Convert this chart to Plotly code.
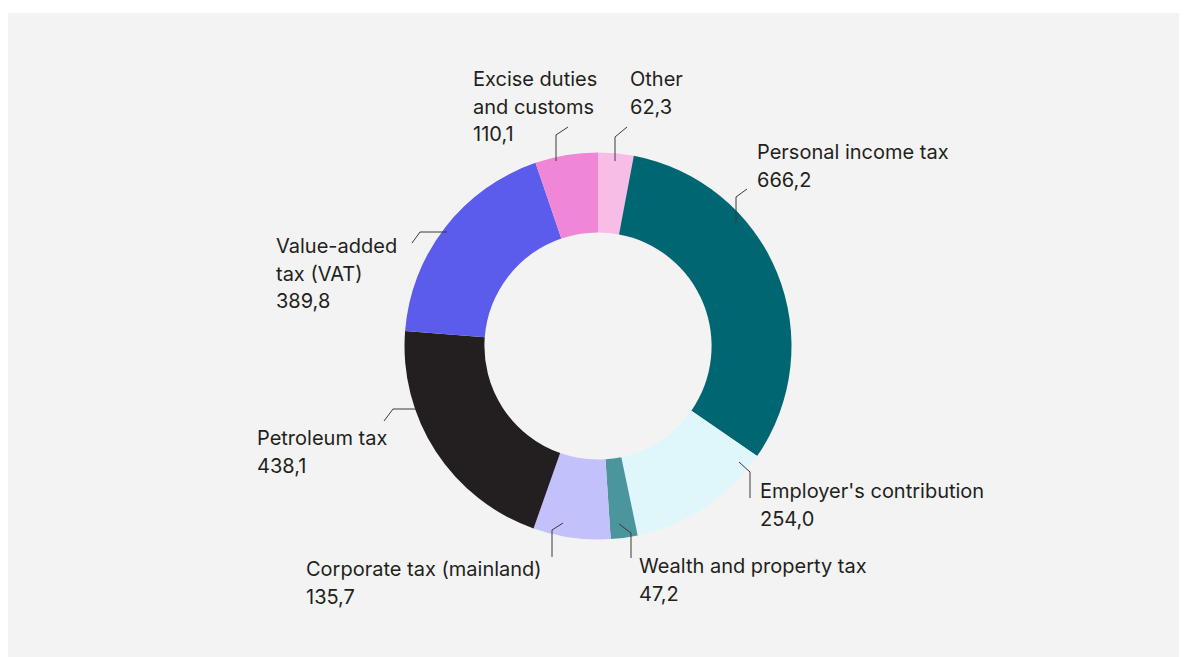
import plotly.graph_objects as go

# ---- data ----
categories = ["Other", "Personal income tax", "Employer's contribution",
              "Wealth and property tax", "Corporate tax (mainland)",
              "Petroleum tax", "Value-added tax (VAT)", "Excise duties and customs"]
values = [62.3, 666.2, 254.0, 47.2, 135.7, 438.1, 389.8, 110.1]
label_lines = [["Other"], ["Personal income tax"], ["Employer's contribution"],
               ["Wealth and property tax"], ["Corporate tax (mainland)"],
               ["Petroleum tax"], ["Value-added", "tax (VAT)"],
               ["Excise duties", "and customs"]]
colors = ["#f7bde7", "#006671", "#dff6fb", "#4b969c", "#c2c1fc",
          "#231f20", "#5b5cec", "#f087d6"]

# ---- layout (screen pixels; page body adds an 8px margin) ----
W, H = 1187, 657
OFF = 8
CX, CY, R = 598, 346, 193.5
HOLE = 0.587
LINE_H = 27.5
TEXT_DX = -2
FONT = "Inter, Roboto, sans-serif"
TXT = "#231f20"

label_pos = [(630, 79), (757, 152), (760, 491), (639, 566), (306, 569),
             (257, 438), (276, 246), (473, 79)]
leaders = [
    [(615, 161), (615, 137), (627, 127)],
    [(736, 223), (736, 197), (747, 189)],
    [(739, 462), (750, 472), (750, 498)],
    [(619, 524), (631, 533), (631, 558)],
    [(563, 523), (552, 530), (552, 557)],
    [(416, 409), (393, 409), (384, 421)],
    [(447, 232), (420, 232), (412, 243)],
    [(556, 161), (556, 135), (568, 127)],
]

def fmt(v):
    return f"{v:.1f}".replace(".", ",")

fx, fy = CX - OFF, CY - OFF
fig = go.Figure()
fig.add_trace(go.Pie(
    labels=categories, values=values, sort=False, direction="clockwise",
    rotation=0, hole=HOLE, textinfo="none", hoverinfo="label+value",
    marker=dict(colors=colors, line=dict(width=0)),
    domain=dict(x=[(fx - R) / W, (fx + R) / W], y=[1 - (fy + R) / H, 1 - (fy - R) / H]),
    showlegend=False,
))

shapes = [dict(type="rect", xref="x", yref="y", x0=OFF, x1=W + OFF, y0=13, y1=H + OFF,
               fillcolor="#f3f3f3", line=dict(width=0), layer="below")]
for pts in leaders:
    path = "M " + " L ".join(f"{x},{y}" for x, y in pts)
    shapes.append(dict(type="path", xref="x", yref="y", path=path,
                       line=dict(color="#3a3a3a", width=1), layer="above"))

annotations = []
for lines, v, (lx, ly) in zip(label_lines, values, label_pos):
    for i, t in enumerate(lines + [fmt(v)]):
        annotations.append(dict(x=lx + TEXT_DX, y=ly + i * LINE_H, xref="x", yref="y",
                                text=t, showarrow=False, xanchor="left", yanchor="middle",
                                font=dict(family=FONT, size=20, color=TXT)))

fig.update_layout(
    width=W, height=H, margin=dict(l=0, r=0, t=0, b=0),
    paper_bgcolor="white", plot_bgcolor="rgba(0,0,0,0)",
    xaxis=dict(range=[OFF, W + OFF], visible=False, domain=[0, 1], fixedrange=True),
    yaxis=dict(range=[H + OFF, OFF], visible=False, domain=[0, 1], fixedrange=True),
    shapes=shapes, annotations=annotations,
)
fig.write_html("out.html")
